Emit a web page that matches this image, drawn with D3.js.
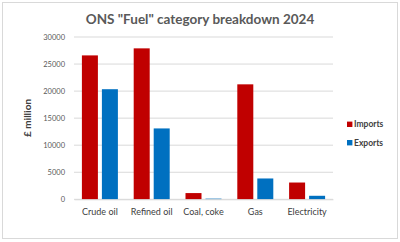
<!DOCTYPE html>
<meta charset="utf-8">
<style>
body { margin: 0; background: #fff; }
text { font-family: Lato, "Open Sans", sans-serif; }
</style>
<svg id="chart" width="400" height="242"></svg>
<script src="https://d3js.org/d3.v7.min.js"></script>
<script>
// data (£ million)
var categories = ["Crude oil", "Refined oil", "Coal, coke", "Gas", "Electricity"];
var seriesNames = ["Imports", "Exports"];
var imports = [26600, 27900, 1150, 21250, 3100];
var exports = [20350, 13100, 120, 3850, 650];
var yTicks = [0, 5000, 10000, 15000, 20000, 25000, 30000];

var colors = {Imports: "#c00000", Exports: "#0070c0"};

var svg = d3.select("#chart");

// outer frame
svg.append("rect")
    .attr("x", 2.5).attr("y", 2.5).attr("width", 395).attr("height", 236)
    .attr("fill", "#fff").attr("stroke", "#d9d9d9");

var plot = {left: 74, right: 333, top: 37, bottom: 199.3};

var x0 = d3.scaleBand().domain(categories).range([plot.left, plot.right]);
var y = d3.scaleLinear().domain([0, 30000]).range([plot.bottom, plot.top]);

// gridlines
svg.append("g").selectAll("line")
    .data(yTicks)
    .enter().append("line")
    .attr("x1", plot.left).attr("x2", plot.right)
    .attr("y1", d => y(d)).attr("y2", d => y(d))
    .attr("stroke", "#d9d9d9").attr("stroke-width", 1);

// y axis labels
var yAxis = svg.append("g")
    .attr("transform", "translate(" + (plot.left - 9) + ",0)")
    .call(d3.axisLeft(y).tickValues(yTicks).tickSize(0).tickPadding(0).tickFormat(d3.format("d")));
yAxis.select(".domain").remove();
yAxis.selectAll("text")
    .attr("font-family", "Lato, sans-serif")
    .attr("font-size", 7.5).attr("fill", "#595959");

// bars
var rows = categories.map((c, i) => ({cat: c, values: [
    {name: "Imports", value: imports[i]},
    {name: "Exports", value: exports[i]}]}));

var barW = 16, barGap = 4;
var x1 = d3.scaleBand().domain(seriesNames).range([0, barW * 2 + barGap]).paddingInner(barGap / (barW + barGap));

var groups = svg.append("g").selectAll("g")
    .data(rows)
    .enter().append("g")
    .attr("transform", d => "translate(" + (x0(d.cat) + x0.bandwidth() / 2 - (barW * 2 + barGap) / 2) + ",0)");

groups.selectAll("rect")
    .data(d => d.values)
    .enter().append("rect")
    .attr("x", d => x1(d.name))
    .attr("width", x1.bandwidth())
    .attr("y", d => y(d.value))
    .attr("height", d => y(0) - y(d.value))
    .attr("fill", d => colors[d.name]);

// x axis (baseline + category labels)
var xAxis = svg.append("g")
    .attr("transform", "translate(0," + plot.bottom + ")")
    .call(d3.axisBottom(x0).tickSize(0).tickPadding(9));
xAxis.select(".domain").attr("stroke", "#d9d9d9");
xAxis.selectAll("text")
    .attr("font-family", "Lato, sans-serif")
    .attr("font-size", 9).attr("fill", "#404040");

// title
svg.append("text")
    .attr("x", 200).attr("y", 24)
    .attr("text-anchor", "middle")
    .attr("font-size", 13.5).attr("font-weight", "bold")
    .attr("fill", "#595959")
    .text('ONS "Fuel" category breakdown 2024');

// y axis title
svg.append("text")
    .attr("transform", "translate(31,118) rotate(-90)")
    .attr("text-anchor", "middle")
    .attr("font-size", 10).attr("font-weight", "bold")
    .attr("fill", "#404040")
    .text("£ million");

// legend
var legend = svg.append("g").selectAll("g")
    .data(seriesNames)
    .enter().append("g")
    .attr("transform", (d, i) => "translate(347," + (124.3 + i * 18.4) + ")");
legend.append("rect")
    .attr("x", 0).attr("y", -2.7).attr("width", 5.4).attr("height", 5.4)
    .attr("fill", d => colors[d]);
legend.append("text")
    .attr("x", 7).attr("dy", "0.35em")
    .attr("font-size", 8.5).attr("font-weight", "bold")
    .attr("fill", "#404040")
    .text(d => d);
</script>
